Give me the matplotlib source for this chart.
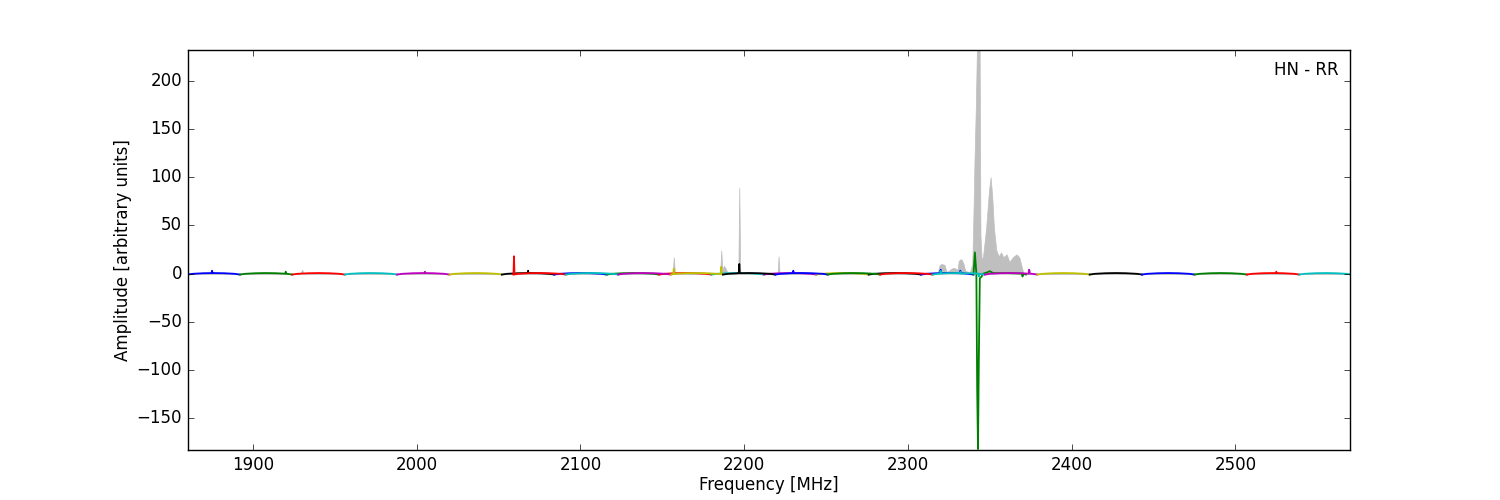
import matplotlib
matplotlib.use("Agg")
import matplotlib.pyplot as plt
import numpy as np

plt.style.use("classic")

# band edges (MHz) and colours, two overlapping sets of sub-bands
BAND_A_START = [1860, 1892, 1924, 1956, 1988, 2020, 2052, 2084, 2116, 2148, 2180, 2212, 2244, 2276, 2308]
BAND_A_COLOR = ["b", "g", "r", "c", "m", "y", "k", "b", "g", "r", "c", "m", "y", "k", "b"]
BAND_B_START = [2059, 2091, 2123, 2155, 2187, 2219, 2251, 2283, 2315, 2347, 2379, 2411, 2443, 2475, 2507, 2539]
BAND_B_COLOR = ["r", "c", "m", "y", "k", "b", "g", "r", "c", "m", "y", "k", "b", "g", "r", "c"]
BAND_WIDTH = 32

# bandpass ripple seen along every sub-band (fraction of band, amplitude)
SHAPE_FRAC = [0.0, 0.1, 0.3, 0.5, 0.7, 0.9, 1.0]
SHAPE_AMP = [-1.0, -0.2, 0.4, 0.6, 0.4, -0.2, -1.0]

# narrow features on the coloured lines: (set, band index, freq, amplitude)
LINE_SPIKES = [
    ("A", 0, 1875, 3), ("A", 1, 1920, 2), ("A", 4, 2005, 2), ("A", 6, 2068, 3),
    ("A", 14, 2320, 4), ("A", 14, 2332, 3),
    ("B", 0, 2059.4, 18), ("B", 3, 2157, 5), ("B", 3, 2186, 7), ("B", 4, 2197, 10),
    ("B", 5, 2230, 3), ("B", 8, 2320, 3), ("B", 8, 2332, 2), ("B", 8, 2343.3, -3),
    ("B", 9, 2374, 4), ("B", 14, 2525, 2),
]

# last green band with the strong RFI feature
GREEN_F = [2340, 2340.3, 2340.9, 2341.8, 2342.3, 2342.8, 2343.3, 2343.9, 2345, 2346, 2348,
           2350, 2351.5, 2353, 2360, 2369.6, 2370, 2370.4, 2372]
GREEN_A = [-1.0, 6, 22, 0, -120, -182, -90, -5, -3, 0, 1,
           2.5, 1, 0.5, 0.5, 0, -3, 0, -1.0]

# grey reference spectrum
GRAY_F = [1860, 1918.5, 1919.5, 1920.5, 1929, 1930, 1931, 2075, 2076, 2077,
          2156.3, 2157, 2157.7, 2185.3, 2186, 2186.7, 2187.5, 2188.5, 2189.5, 2190.5,
          2196.4, 2197, 2197.6, 2220.4, 2221, 2221.6,
          2318, 2319.4, 2320.5, 2322.4, 2323.5, 2325, 2326.4, 2328, 2329.4, 2330.3,
          2331, 2332, 2333, 2334, 2335, 2336.5, 2338, 2339.3, 2340, 2340.7, 2341.5,
          2342.2, 2343, 2343.8, 2344.3, 2345, 2345.8, 2347, 2347.8, 2349.5, 2350.5,
          2351.5, 2352.5, 2354, 2355.5, 2356.9, 2358.3, 2360.3, 2362, 2364, 2366.4,
          2368, 2369.8, 2370.6, 2373.5, 2374.2, 2375, 2570]
GRAY_A = [0, 0, 2, 0, 0, 4, 0, 0, 2, 0,
          0, 17, 0, 0, 24, 3, 8, 6, 2, 0,
          0, 89, 0, 0, 18, 0,
          0, 9, 10, 9, 2, 3, 5, 6, 5, 4,
          13, 15, 14, 10, 3, 2, 2, 10, 60, 120, 175,
          240, 260, 230, 40, 15, 17, 35, 48, 86, 100,
          80, 48, 24, 18, 22, 17, 20, 12, 17, 20,
          17, 5, 0, 0, 5, 0, 0]


def band_curve(start, spikes):
    f = [start + s * BAND_WIDTH for s in SHAPE_FRAC]
    a = list(SHAPE_AMP)
    for sf, sa in spikes:
        base = np.interp(sf, f, a)
        f += [sf - 0.3, sf, sf + 0.3]
        a += [base, sa, base]
    order = np.argsort(f)
    return np.array(f)[order], np.array(a)[order]


fig = plt.figure(figsize=(15, 5), dpi=100)
ax = fig.add_axes([0.125, 0.1, 0.775, 0.8])

ax.fill_between(GRAY_F, 0, GRAY_A, color="0.75", edgecolor="0.75", linewidth=0.5)

for i, (start, col) in enumerate(zip(BAND_A_START, BAND_A_COLOR)):
    spikes = [(f, a) for s, b, f, a in LINE_SPIKES if s == "A" and b == i]
    f, a = band_curve(start, spikes)
    ax.plot(f, a, color=col, lw=1.3)

ax.plot(GREEN_F, GREEN_A, color="g", lw=1.3)

for i, (start, col) in enumerate(zip(BAND_B_START, BAND_B_COLOR)):
    spikes = [(f, a) for s, b, f, a in LINE_SPIKES if s == "B" and b == i]
    f, a = band_curve(start, spikes)
    ax.plot(f, a, color=col, lw=1.3)

ax.set_xlim(1860, 2570)
ax.set_ylim(-183, 232)
ax.set_yticks([-150, -100, -50, 0, 50, 100, 150, 200])
ax.set_xticks([1900, 2000, 2100, 2200, 2300, 2400, 2500])
ax.set_xlabel("Frequency [MHz]", labelpad=1.5)
ax.set_ylabel("Amplitude [arbitrary units]", labelpad=3)
ax.text(0.99, 0.95, "HN - RR", transform=ax.transAxes, ha="right", va="center", fontsize=12)

fig.savefig("out.png", dpi=100)
